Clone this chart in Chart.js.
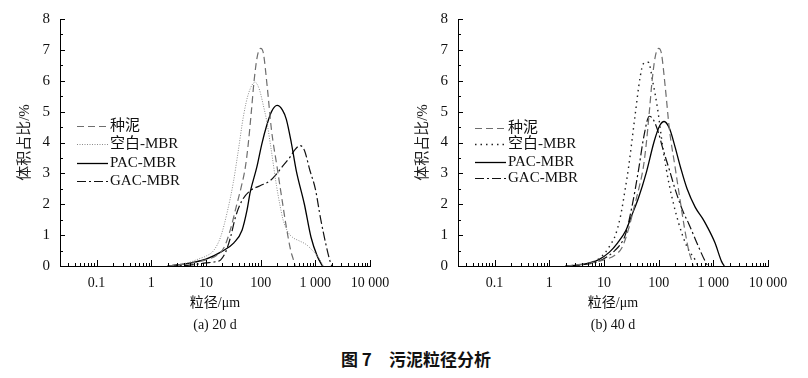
<!DOCTYPE html>
<html>
<head>
<meta charset="utf-8">
<script src="https://cdn.jsdelivr.net/npm/chart.js@4.4.0/dist/chart.umd.min.js"></script>
<style>
  body { margin: 0; background: #fff; width: 808px; height: 378px; position: relative; overflow: hidden; }
  .box { position: absolute; top: 0; }
  #caption { position: absolute; left: 341px; top: 346px; white-space: pre;
    font: bold 17px "Noto Sans CJK SC", sans-serif; color: #111; }
</style>
</head>
<body>
<div class="box" style="left:0"><canvas id="chart20" width="400" height="340"></canvas></div>
<div class="box" style="left:398px"><canvas id="chart40" width="408" height="340"></canvas></div>
<div id="caption">图 7　污泥粒径分析</div>

<script>
// series names and axis ticks
const seriesNames = ["种泥", "空白-MBR", "PAC-MBR", "GAC-MBR"];
const xTicks = [0.1, 1, 10, 100, 1000, 10000];
const xTickLabels = ["0.1", "1", "10", "100", "1 000", "10 000"];
const yTicks = [0, 1, 2, 3, 4, 5, 6, 7, 8];

// seed sludge (same curve in both panels), particle size in um, volume %
const seedX = [2, 3.2, 5, 10, 15.8, 21.4, 28.2, 35.5, 44.7, 52.5, 58.9, 67.6, 75.9, 87.1, 100, 112, 132, 158, 200, 251, 295, 355, 398, 427];
const seedY = [0, 0.04, 0.08, 0.2, 0.35, 0.6, 1.2, 1.9, 2.6, 3.2, 3.9, 5.0, 6.0, 6.8, 7.05, 6.9, 5.8, 4.4, 3.2, 2.05, 1.26, 0.5, 0.2, 0];

// (a) 20 d
const blank20X = [2, 3.2, 5, 7.9, 10, 13.8, 18.6, 24.5, 31.6, 38, 49, 60.3, 79.4, 95.5, 112, 129, 158, 195, 224, 257, 316, 389, 501, 676, 891, 1175, 1413];
const blank20Y = [0, 0.05, 0.12, 0.25, 0.32, 0.5, 0.95, 1.75, 2.7, 3.6, 4.9, 5.6, 5.95, 5.7, 5.2, 4.7, 3.7, 2.6, 2.0, 1.5, 1.1, 0.92, 0.82, 0.7, 0.5, 0.25, 0];
const pac20X = [2, 3.2, 5, 7.9, 10, 18.6, 32.4, 45.7, 56.2, 64.6, 85.1, 105, 129, 158, 200, 251, 295, 363, 447, 631, 832, 1096, 1349];
const pac20Y = [0, 0.04, 0.09, 0.17, 0.22, 0.45, 0.75, 1.16, 1.8, 2.4, 3.2, 3.95, 4.55, 5.0, 5.2, 5.05, 4.75, 4.0, 3.1, 2.0, 0.94, 0.3, 0];
const gac20X = [2, 5, 10, 14.1, 18.6, 22.9, 28.2, 34.7, 45.7, 64.6, 97.7, 148, 195, 257, 339, 417, 525, 631, 794, 1000, 1259, 1585, 1862, 1995];
const gac20Y = [0, 0.03, 0.1, 0.13, 0.2, 0.45, 0.94, 1.59, 2.12, 2.44, 2.6, 2.76, 2.98, 3.25, 3.51, 3.75, 3.9, 3.75, 3.1, 2.5, 1.5, 0.65, 0.15, 0];

// (b) 40 d
const blank40X = [2, 4, 7.9, 10.7, 13.8, 16.2, 20, 24.5, 28.2, 37.2, 45.7, 52.5, 64.6, 79.4, 95.5, 120, 155, 234, 331, 468, 525];
const blank40Y = [0, 0.05, 0.22, 0.45, 0.75, 1.0, 1.6, 2.5, 3.2, 4.9, 6.1, 6.55, 6.6, 5.9, 5.1, 3.8, 2.66, 1.37, 0.62, 0.19, 0];
const pac40X = [2, 4, 7.9, 12.6, 17.8, 25.1, 31.6, 42.7, 58.9, 83.2, 105, 126, 158, 200, 251, 331, 468, 631, 759, 1072, 1413, 1585];
const pac40Y = [0, 0.05, 0.2, 0.45, 0.75, 1.15, 1.6, 2.2, 3.0, 4.05, 4.55, 4.68, 4.45, 3.85, 3.2, 2.5, 1.9, 1.55, 1.3, 0.75, 0.15, 0];
const gac40X = [2, 4, 7.9, 12.6, 15.8, 20, 24.5, 32.4, 42.7, 53.7, 67.6, 79.4, 100, 117.5, 158, 204, 282, 355, 537, 724, 794];
const gac40Y = [0, 0.04, 0.15, 0.35, 0.5, 0.7, 1.0, 1.91, 3.09, 4.2, 4.85, 4.75, 4.3, 3.84, 3.1, 2.44, 1.75, 1.37, 0.62, 0.12, 0];

const serif = '"Liberation Serif", "Noto Sans CJK SC", serif';

function pts(xs, ys) {
  return xs.map((x, i) => ({ x: x, y: ys[i] }));
}

// tick marks drawn inward, major + minor, from the scales
const innerTicks = {
  id: "innerTicks",
  afterDraw(chart) {
    const ctx = chart.ctx;
    const xs = chart.scales.x;
    const ys = chart.scales.y;
    const area = chart.chartArea;
    ctx.save();
    ctx.strokeStyle = "#000";
    ctx.lineWidth = 1;
    ctx.beginPath();
    for (let d = 0.01; d <= 10000; d *= 10) {
      for (let m = 1; m <= 9; m++) {
        const v = m * d;
        if (v < xs.min || v > xs.max * 1.0001) continue;
        const px = Math.round(xs.getPixelForValue(v)) + 0.5;
        const len = m === 1 ? 6 : 3;
        ctx.moveTo(px, area.bottom);
        ctx.lineTo(px, area.bottom - len);
      }
    }
    for (let v = 0; v <= 8; v += 0.5) {
      const py = Math.round(ys.getPixelForValue(v)) + 0.5;
      const len = v % 1 === 0 ? 5 : 3;
      ctx.moveTo(area.left, py);
      ctx.lineTo(area.left + len, py);
    }
    ctx.stroke();
    ctx.restore();
  }
};

// legend drawn inside the plot, Origin style
const innerLegend = {
  id: "innerLegend",
  afterDraw(chart, args, opts) {
    const ctx = chart.ctx;
    ctx.save();
    ctx.font = "15px " + serif;
    ctx.textBaseline = "middle";
    ctx.fillStyle = "#111";
    chart.data.datasets.forEach((ds, i) => {
      const y = opts.rows[i] + 0.5;
      ctx.beginPath();
      ctx.strokeStyle = ds.borderColor;
      ctx.lineWidth = ds.borderWidth;
      ctx.setLineDash(ds.borderDash || []);
      ctx.moveTo(opts.x1, y);
      ctx.lineTo(opts.x2, y);
      ctx.stroke();
      ctx.setLineDash([]);
      ctx.fillText(ds.label, opts.textX, opts.rows[i]);
    });
    ctx.restore();
  }
};

function makeChart(id, blankX, blankY, blankStyle, pacX, pacY, gacX, gacY, subtitle, rows, padRight) {
  const datasets = [
    { label: seriesNames[0], data: pts(seedX, seedY), borderColor: "#6e6e6e", borderWidth: 1.2, borderDash: [7, 4] },
    { label: seriesNames[1], data: pts(blankX, blankY), borderColor: blankStyle.color, borderWidth: blankStyle.width, borderDash: blankStyle.dash },
    { label: seriesNames[2], data: pts(pacX, pacY), borderColor: "#000", borderWidth: 1.3, borderDash: [] },
    { label: seriesNames[3], data: pts(gacX, gacY), borderColor: "#111", borderWidth: 1.2, borderDash: [9, 3, 2, 3] }
  ];
  datasets.forEach((d) => {
    d.pointRadius = 0;
    d.fill = false;
    d.cubicInterpolationMode = "monotone";
  });

  return new Chart(document.getElementById(id), {
    type: "line",
    data: { datasets: datasets },
    options: {
      responsive: false,
      animation: false,
      layout: { padding: { top: 17, right: padRight, left: 0, bottom: 0 } },
      plugins: {
        legend: { display: false },
        tooltip: { enabled: false },
        innerLegend: { x1: 77, x2: 108, textX: 110, rows: rows }
      },
      scales: {
        x: {
          type: "logarithmic",
          min: 0.0214,
          max: 10000,
          afterBuildTicks: (s) => { s.ticks = xTicks.map((v) => ({ value: v })); },
          afterFit: (s) => { s.height = 74; },
          ticks: {
            autoSkip: false,
            maxRotation: 0,
            padding: 9,
            color: "#111",
            font: { family: serif, size: 14 },
            callback: (v) => xTickLabels[xTicks.indexOf(v)]
          },
          grid: { display: false, drawTicks: false },
          border: { display: true, color: "#000", width: 1 },
          title: {
            display: true,
            text: ["粒径/μm", subtitle],
            color: "#111",
            font: { family: serif, size: 14, lineHeight: 1.6 },
            padding: { top: 0, bottom: 3 }
          }
        },
        y: {
          min: 0,
          max: 8,
          afterBuildTicks: (s) => { s.ticks = yTicks.map((v) => ({ value: v })); },
          afterFit: (s) => { s.width = 60; },
          ticks: {
            padding: 10,
            color: "#111",
            font: { family: serif, size: 15 }
          },
          grid: { display: false, drawTicks: false },
          border: { display: true, color: "#000", width: 1 },
          title: {
            display: true,
            text: "体积占比/%",
            color: "#222",
            font: { family: serif, size: 15, lineHeight: 1.2 },
            padding: { top: 16, bottom: 0 }
          }
        }
      }
    },
    plugins: [innerTicks, innerLegend]
  });
}

makeChart("chart20", blank20X, blank20Y, { color: "#8a8a8a", width: 1, dash: [1, 1.5] },
  pac20X, pac20Y, gac20X, gac20Y, "(a) 20 d", [126, 144, 163, 181], 30);
makeChart("chart40", blank40X, blank40Y, { color: "#222", width: 1.4, dash: [1.5, 4] },
  pac40X, pac40Y, gac40X, gac40Y, "(b) 40 d", [128, 144, 162, 178], 38);
</script>
</body>
</html>
